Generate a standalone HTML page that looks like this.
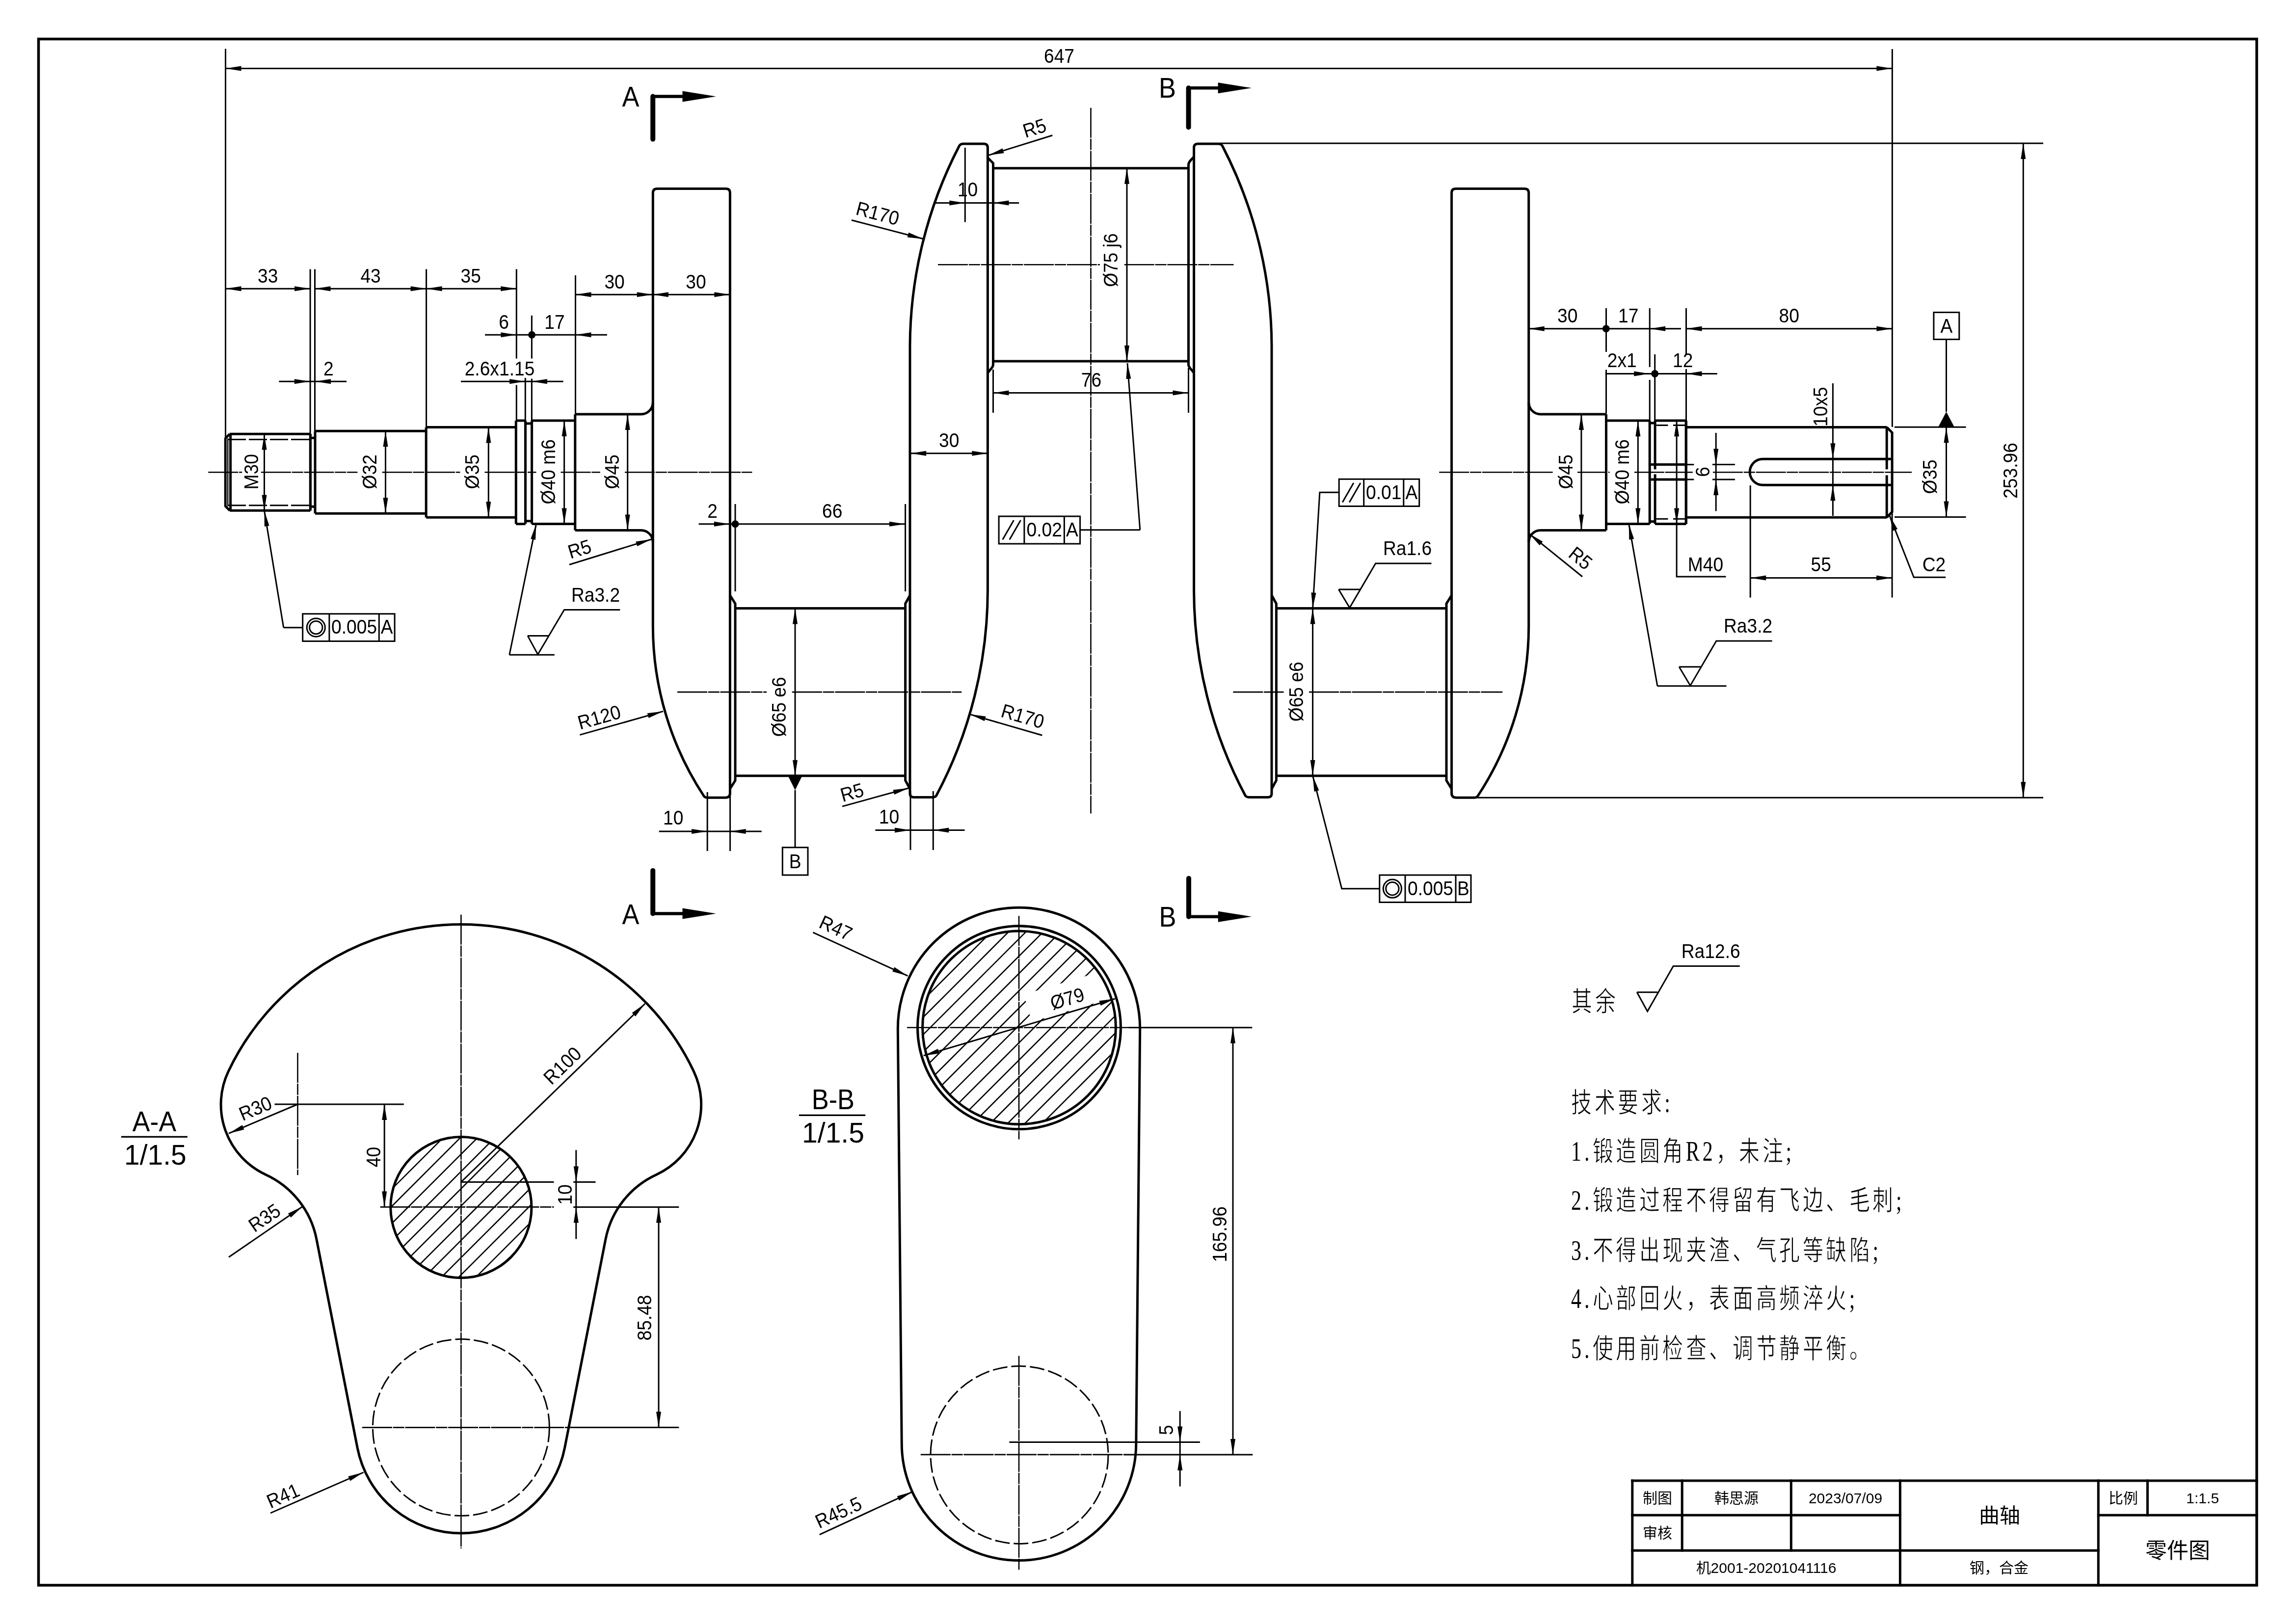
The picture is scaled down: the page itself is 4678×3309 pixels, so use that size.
<!DOCTYPE html>
<html lang="zh-CN"><head><meta charset="utf-8"><title>crankshaft</title>
<style>html,body{margin:0;padding:0;background:#fff;width:4678px;height:3309px;overflow:hidden}svg{display:block;filter:grayscale(100%)}text{fill:#000;stroke:none}</style>
</head><body>
<svg width="4678" height="3309" viewBox="0 0 4678 3309">
<rect width="4678" height="3309" fill="#fff"/>
<g fill="none" stroke="#000">
<rect x="78.5" y="79.5" width="4519.5" height="3150.5" stroke-width="5.5"/>
<g stroke-linecap="square">
<line x1="3325.8" y1="3017" x2="4598" y2="3017" stroke-width="5"/>
<line x1="3325.8" y1="3017" x2="3325.8" y2="3230" stroke-width="5"/>
<line x1="3325.8" y1="3087.2" x2="3871.4" y2="3087.2" stroke-width="5"/>
<line x1="4275.3" y1="3087.2" x2="4598" y2="3087.2" stroke-width="5"/>
<line x1="3325.8" y1="3159.2" x2="4275.3" y2="3159.2" stroke-width="5"/>
<line x1="3427.2" y1="3017" x2="3427.2" y2="3159.2" stroke-width="5"/>
<line x1="3649.3" y1="3017" x2="3649.3" y2="3159.2" stroke-width="5"/>
<line x1="3871.4" y1="3017" x2="3871.4" y2="3230" stroke-width="5"/>
<line x1="4275.3" y1="3017" x2="4275.3" y2="3230" stroke-width="5"/>
<line x1="4375.5" y1="3017" x2="4375.5" y2="3087.2" stroke-width="5"/>
</g>
<line x1="468.1" y1="884.3" x2="632.4" y2="884.3" stroke-width="5.0"/>
<line x1="468.1" y1="1040.3" x2="632.4" y2="1040.3" stroke-width="5.0"/>
<line x1="632.4" y1="892.3" x2="642" y2="892.3" stroke-width="5.0"/>
<line x1="632.4" y1="1032.3" x2="642" y2="1032.3" stroke-width="5.0"/>
<line x1="632.4" y1="884.3" x2="632.4" y2="1040.3" stroke-width="5.0"/>
<line x1="642" y1="878.3" x2="868.2" y2="878.3" stroke-width="5.0"/>
<line x1="642" y1="1046.3" x2="868.2" y2="1046.3" stroke-width="5.0"/>
<line x1="642" y1="878.3" x2="642" y2="1046.3" stroke-width="5.0"/>
<line x1="868.2" y1="870.4" x2="1051.3" y2="870.4" stroke-width="5.0"/>
<line x1="868.2" y1="1054.2" x2="1051.3" y2="1054.2" stroke-width="5.0"/>
<line x1="868.2" y1="870.4" x2="868.2" y2="1054.2" stroke-width="5.0"/>
<line x1="1051.3" y1="857" x2="1070.5" y2="857" stroke-width="5.0"/>
<line x1="1051.3" y1="1067.6" x2="1070.5" y2="1067.6" stroke-width="5.0"/>
<line x1="1051.3" y1="857" x2="1051.3" y2="1067.6" stroke-width="5.0"/>
<line x1="1070.5" y1="862.9" x2="1083.6" y2="862.9" stroke-width="5.0"/>
<line x1="1070.5" y1="1061.7" x2="1083.6" y2="1061.7" stroke-width="5.0"/>
<line x1="1070.5" y1="857" x2="1070.5" y2="1067.6" stroke-width="5.0"/>
<line x1="1083.6" y1="857" x2="1171.8" y2="857" stroke-width="5.0"/>
<line x1="1083.6" y1="1067.6" x2="1171.8" y2="1067.6" stroke-width="5.0"/>
<line x1="1083.6" y1="857" x2="1083.6" y2="1067.6" stroke-width="5.0"/>
<line x1="1171.8" y1="844" x2="1306" y2="844" stroke-width="5.0"/>
<line x1="1171.8" y1="1080.6" x2="1306" y2="1080.6" stroke-width="5.0"/>
<line x1="1171.8" y1="844" x2="1171.8" y2="1080.6" stroke-width="5.0"/>
<path d="M468.1,884.3 L459.3,893.3 L459.3,1031.3 L468.1,1040.3" stroke-width="5.0"/>
<line x1="469.6" y1="884.3" x2="469.6" y2="1040.3" stroke-width="5.0"/>
<line x1="464.2" y1="893.3" x2="464.2" y2="1031.3" stroke-width="2.5"/>
<line x1="632.4" y1="884.3" x2="632.4" y2="1040.3" stroke-width="5.0"/>
<line x1="464" y1="895.5" x2="632" y2="895.5" stroke-width="3" stroke-dasharray="37 6"/>
<line x1="464" y1="1029.7" x2="632" y2="1029.7" stroke-width="3" stroke-dasharray="37 6"/>
<path d="M1306,844 A24,24 0 0 0 1330.3,820" stroke-width="5.0"/>
<path d="M1306,1080.6 A24,24 0 0 1 1330.3,1104.6" stroke-width="5.0"/>
<line x1="3139" y1="844" x2="3272.5" y2="844" stroke-width="5.0"/>
<line x1="3139" y1="1080.6" x2="3272.5" y2="1080.6" stroke-width="5.0"/>
<line x1="3272.5" y1="857" x2="3361.2" y2="857" stroke-width="5.0"/>
<line x1="3272.5" y1="1067.6" x2="3361.2" y2="1067.6" stroke-width="5.0"/>
<line x1="3272.5" y1="844" x2="3272.5" y2="1080.6" stroke-width="5.0"/>
<line x1="3361.2" y1="862" x2="3372.1" y2="862" stroke-width="5.0"/>
<line x1="3361.2" y1="1062.6" x2="3372.1" y2="1062.6" stroke-width="5.0"/>
<line x1="3361.2" y1="857" x2="3361.2" y2="1067.6" stroke-width="5.0"/>
<line x1="3372.1" y1="857" x2="3435.3" y2="857" stroke-width="5.0"/>
<line x1="3372.1" y1="1067.6" x2="3435.3" y2="1067.6" stroke-width="5.0"/>
<line x1="3435.3" y1="870.4" x2="3844.5" y2="870.4" stroke-width="5.0"/>
<line x1="3435.3" y1="1054.2" x2="3844.5" y2="1054.2" stroke-width="5.0"/>
<line x1="3435.3" y1="857" x2="3435.3" y2="1067.6" stroke-width="5.0"/>
<line x1="3372.1" y1="857" x2="3372.1" y2="956.3" stroke-width="5.0"/>
<line x1="3372.1" y1="966.3" x2="3372.1" y2="1067.6" stroke-width="5.0"/>
<line x1="3435.3" y1="857" x2="3435.3" y2="1067.6" stroke-width="5.0"/>
<line x1="3374.5" y1="866.5" x2="3398.5" y2="866.5" stroke-width="3"/>
<line x1="3409" y1="866.5" x2="3433.5" y2="866.5" stroke-width="3"/>
<line x1="3374.5" y1="1057.3" x2="3398.5" y2="1057.3" stroke-width="3"/>
<line x1="3409" y1="1057.3" x2="3433.5" y2="1057.3" stroke-width="3"/>
<line x1="3363.3" y1="946.6" x2="3433.7" y2="946.6" stroke-width="5.0"/>
<line x1="3363.3" y1="977" x2="3433.7" y2="977" stroke-width="5.0"/>
<line x1="3433.7" y1="946.6" x2="3451.3" y2="946.6" stroke-width="3.0"/>
<line x1="3433.7" y1="977" x2="3451.3" y2="977" stroke-width="3.0"/>
<line x1="3489" y1="946.6" x2="3535" y2="946.6" stroke-width="3.0"/>
<line x1="3489" y1="977" x2="3535" y2="977" stroke-width="3.0"/>
<line x1="3844.2" y1="870.4" x2="3844.2" y2="956.3" stroke-width="5.0"/>
<line x1="3844.2" y1="968.3" x2="3844.2" y2="1054.2" stroke-width="5.0"/>
<path d="M3844.2,870.4 L3855.1,881.5 L3855.1,1043.1 L3844.2,1054.2" stroke-width="5.0"/>
<path d="M3852.8,935.3 L3591.6,935.3 A26.45,26.45 0 0 0 3591.6,988.2 L3852.8,988.2" stroke-width="5.0"/>
<path d="M3139,844 A24,24 0 0 1 3114.7,820" stroke-width="5.0"/>
<path d="M3139,1080.6 A24,24 0 0 0 3114.7,1104.6" stroke-width="5.0"/>
<path d="M1330.3,1276.4 L1330.3,393 Q1330.3,384.5 1339,384.5 L1479,384.5 Q1487.4,384.5 1487.4,393 L1487.4,1616 Q1487.4,1625.3 1478,1625.3 L1442,1625.3 Q1436,1625.3 1433.8,1621.5 A630,630 0 0 1 1330.3,1276.4 Z" stroke-width="5.0"/>
<path d="M3114.7,1276.4 L3114.7,393 Q3114.7,384.5 3106,384.5 L2966,384.5 Q2957.6,384.5 2957.6,393 L2957.6,1616 Q2957.6,1625.3 2967,1625.3 L3003,1625.3 Q3009,1625.3 3011.2,1621.5 A630,630 0 0 0 3114.7,1276.4 Z" stroke-width="5.0"/>
<path d="M1954.6,297 Q1957,293 1963,293 L2004.4,293 Q2012.4,293 2012.4,301 L2012.4,1202.7 A892,892 0 0 1 1907.5,1621.5 Q1905,1624.5 1899,1624.5 L1862,1624.5 Q1854,1624.5 1854,1616.5 L1854,704.5 A892,892 0 0 1 1954.6,297 Z" stroke-width="5.0"/>
<path d="M2490.4,297 Q2488,293 2482,293 L2440.6,293 Q2432.6,293 2432.6,301 L2432.6,1202.7 A892,892 0 0 0 2537.5,1621.5 Q2540,1624.5 2546,1624.5 L2583,1624.5 Q2591,1624.5 2591,1616.5 L2591,704.5 A892,892 0 0 0 2490.4,297 Z" stroke-width="5.0"/>
<line x1="2023.5" y1="342.7" x2="2421.5" y2="342.7" stroke-width="5.0"/>
<line x1="2023.5" y1="735.9" x2="2421.5" y2="735.9" stroke-width="5.0"/>
<path d="M2012.4,321.5 L2023.5,332.5 L2023.5,743 C2023.5,750 2016,753 2012.4,760" stroke-width="5.0"/>
<path d="M2432.6,319 C2429,325 2421.5,328 2421.5,336 L2421.5,743 C2421.5,750 2429,753 2432.6,760" stroke-width="5.0"/>
<line x1="1498" y1="1239.5" x2="1844.6" y2="1239.5" stroke-width="5.0"/>
<line x1="1498" y1="1580.7" x2="1844.6" y2="1580.7" stroke-width="5.0"/>
<path d="M1487.4,1213 L1498,1230 L1498,1590.2 L1487.4,1607.2" stroke-width="5.0"/>
<path d="M1854,1213 L1844.6,1230 L1844.6,1590.2 L1854,1607.2" stroke-width="5.0"/>
<line x1="2600.4" y1="1239.5" x2="2947" y2="1239.5" stroke-width="5.0"/>
<line x1="2600.4" y1="1580.7" x2="2947" y2="1580.7" stroke-width="5.0"/>
<path d="M2591,1213 L2600.4,1230 L2600.4,1590.2 L2591,1607.2" stroke-width="5.0"/>
<path d="M2957.6,1213 L2947,1230 L2947,1590.2 L2957.6,1607.2" stroke-width="5.0"/>
<line x1="424.3" y1="962.3" x2="493.2" y2="962.3" stroke-width="2.6" stroke-dasharray="61 1.8 23 1.8"/>
<line x1="531.9" y1="962.3" x2="728.4" y2="962.3" stroke-width="2.6" stroke-dasharray="61 1.8 23 1.8"/>
<line x1="778.6" y1="962.3" x2="937.5" y2="962.3" stroke-width="2.6" stroke-dasharray="61 1.8 23 1.8"/>
<line x1="987.5" y1="962.3" x2="1092.5" y2="962.3" stroke-width="2.6" stroke-dasharray="61 1.8 23 1.8"/>
<line x1="1142.5" y1="962.3" x2="1223" y2="962.3" stroke-width="2.6" stroke-dasharray="61 1.8 23 1.8"/>
<line x1="1273" y1="962.3" x2="1532.4" y2="962.3" stroke-width="2.6" stroke-dasharray="61 1.8 23 1.8"/>
<line x1="2932.2" y1="962.3" x2="3163.7" y2="962.3" stroke-width="2.6" stroke-dasharray="61 1.8 23 1.8"/>
<line x1="3214" y1="962.3" x2="3279.6" y2="962.3" stroke-width="2.6" stroke-dasharray="61 1.8 23 1.8"/>
<line x1="3329.9" y1="962.3" x2="3448.8" y2="962.3" stroke-width="2.6" stroke-dasharray="61 1.8 23 1.8"/>
<line x1="3490" y1="962.3" x2="3895.1" y2="962.3" stroke-width="2.6" stroke-dasharray="61 1.8 23 1.8"/>
<line x1="1911" y1="539.3" x2="2241" y2="539.3" stroke-width="2.6" stroke-dasharray="61 1.8 23 1.8"/>
<line x1="2290.8" y1="539.3" x2="2513.5" y2="539.3" stroke-width="2.6" stroke-dasharray="61 1.8 23 1.8"/>
<line x1="1380" y1="1410.1" x2="1562" y2="1410.1" stroke-width="2.6" stroke-dasharray="61 1.8 23 1.8"/>
<line x1="1613.8" y1="1410.1" x2="1959.3" y2="1410.1" stroke-width="2.6" stroke-dasharray="61 1.8 23 1.8"/>
<line x1="2512.4" y1="1410.1" x2="2615.6" y2="1410.1" stroke-width="2.6" stroke-dasharray="61 1.8 23 1.8"/>
<line x1="2667" y1="1410.1" x2="3061.2" y2="1410.1" stroke-width="2.6" stroke-dasharray="61 1.8 23 1.8"/>
<line x1="2222.5" y1="219.8" x2="2222.5" y2="1657.6" stroke-width="2.6" stroke-dasharray="61 1.8 23 1.8"/>
<line x1="459.5" y1="139.6" x2="3855.4" y2="139.6" stroke-width="3.0"/>
<path d="M459.5,139.6 L491.5,134.6 L491.5,144.6Z" fill="#000" stroke="none"/>
<path d="M3855.4,139.6 L3823.4,144.6 L3823.4,134.6Z" fill="#000" stroke="none"/>
<text transform="translate(2158,127.9) scale(0.93,1)" font-size="40" text-anchor="middle" font-family="&quot;Liberation Sans&quot;, sans-serif">647</text>
<line x1="459.5" y1="99.4" x2="459.5" y2="893" stroke-width="3.0"/>
<line x1="3855.4" y1="100" x2="3855.4" y2="870" stroke-width="3.0"/>
<line x1="459.5" y1="588.2" x2="632.1" y2="588.2" stroke-width="3.0"/>
<path d="M459.5,588.2 L491.5,583.2 L491.5,593.2Z" fill="#000" stroke="none"/>
<path d="M632.1,588.2 L600.1,593.2 L600.1,583.2Z" fill="#000" stroke="none"/>
<text transform="translate(545.8,575.6) scale(0.93,1)" font-size="40" text-anchor="middle" font-family="&quot;Liberation Sans&quot;, sans-serif">33</text>
<line x1="641.5" y1="588.2" x2="868.6" y2="588.2" stroke-width="3.0"/>
<path d="M641.5,588.2 L673.5,583.2 L673.5,593.2Z" fill="#000" stroke="none"/>
<path d="M868.6,588.2 L836.6,593.2 L836.6,583.2Z" fill="#000" stroke="none"/>
<text transform="translate(755.1,575.6) scale(0.93,1)" font-size="40" text-anchor="middle" font-family="&quot;Liberation Sans&quot;, sans-serif">43</text>
<line x1="868.6" y1="588.2" x2="1052.3" y2="588.2" stroke-width="3.0"/>
<path d="M868.6,588.2 L900.6,583.2 L900.6,593.2Z" fill="#000" stroke="none"/>
<path d="M1052.3,588.2 L1020.3,593.2 L1020.3,583.2Z" fill="#000" stroke="none"/>
<text transform="translate(959.2,575.6) scale(0.93,1)" font-size="40" text-anchor="middle" font-family="&quot;Liberation Sans&quot;, sans-serif">35</text>
<line x1="632.1" y1="548.4" x2="632.1" y2="884" stroke-width="3.0"/>
<line x1="641.5" y1="548.4" x2="641.5" y2="878" stroke-width="3.0"/>
<line x1="868.6" y1="548.4" x2="868.6" y2="870" stroke-width="3.0"/>
<line x1="1052.3" y1="548.4" x2="1052.3" y2="730.6" stroke-width="3.0"/>
<line x1="1052.3" y1="784.5" x2="1052.3" y2="857" stroke-width="3.0"/>
<line x1="568.4" y1="777.2" x2="706.1" y2="777.2" stroke-width="3.0"/>
<path d="M631.8,777.2 L599.8,782.2 L599.8,772.2Z" fill="#000" stroke="none"/>
<path d="M642.1,777.2 L674.1,772.2 L674.1,782.2Z" fill="#000" stroke="none"/>
<text transform="translate(669.4,764.6) scale(0.93,1)" font-size="40" text-anchor="middle" font-family="&quot;Liberation Sans&quot;, sans-serif">2</text>
<line x1="939.1" y1="777.2" x2="1147.6" y2="777.2" stroke-width="3.0"/>
<path d="M1070.1,777.2 L1038.1,782.2 L1038.1,772.2Z" fill="#000" stroke="none"/>
<path d="M1082.8,777.2 L1114.8,772.2 L1114.8,782.2Z" fill="#000" stroke="none"/>
<text transform="translate(1018,764.6) scale(0.93,1)" font-size="40" text-anchor="middle" font-family="&quot;Liberation Sans&quot;, sans-serif">2.6x1.15</text>
<line x1="1070.3" y1="770" x2="1070.3" y2="862.9" stroke-width="3.0"/>
<line x1="1083.4" y1="642.9" x2="1083.4" y2="730.6" stroke-width="3.0"/>
<line x1="1083.4" y1="771.6" x2="1083.4" y2="857" stroke-width="3.0"/>
<line x1="988.1" y1="682.2" x2="1236.9" y2="682.2" stroke-width="3.0"/>
<path d="M1052.5,682.2 L1020.5,687.2 L1020.5,677.2Z" fill="#000" stroke="none"/>
<path d="M1172.5,682.2 L1204.5,677.2 L1204.5,687.2Z" fill="#000" stroke="none"/>
<circle cx="1083.6" cy="682.2" r="7.5" fill="#000" stroke="none"/>
<text transform="translate(1026.7,669.5) scale(0.93,1)" font-size="40" text-anchor="middle" font-family="&quot;Liberation Sans&quot;, sans-serif">6</text>
<text transform="translate(1130,669.5) scale(0.93,1)" font-size="40" text-anchor="middle" font-family="&quot;Liberation Sans&quot;, sans-serif">17</text>
<line x1="1172.5" y1="600.2" x2="1329.8" y2="600.2" stroke-width="3.0"/>
<path d="M1172.5,600.2 L1204.5,595.2 L1204.5,605.2Z" fill="#000" stroke="none"/>
<path d="M1329.8,600.2 L1297.8,605.2 L1297.8,595.2Z" fill="#000" stroke="none"/>
<text transform="translate(1252.1,587.9) scale(0.93,1)" font-size="40" text-anchor="middle" font-family="&quot;Liberation Sans&quot;, sans-serif">30</text>
<line x1="1329.8" y1="600.2" x2="1487.4" y2="600.2" stroke-width="3.0"/>
<path d="M1329.8,600.2 L1361.8,595.2 L1361.8,605.2Z" fill="#000" stroke="none"/>
<path d="M1487.4,600.2 L1455.4,605.2 L1455.4,595.2Z" fill="#000" stroke="none"/>
<text transform="translate(1417.9,587.9) scale(0.93,1)" font-size="40" text-anchor="middle" font-family="&quot;Liberation Sans&quot;, sans-serif">30</text>
<line x1="1172.5" y1="561" x2="1172.5" y2="843" stroke-width="3.0"/>
<line x1="538.5" y1="884.4" x2="538.5" y2="1040.4" stroke-width="3.0"/>
<path d="M538.5,884.4 L543.5,916.4 L533.5,916.4Z" fill="#000" stroke="none"/>
<path d="M538.5,1040.4 L533.5,1008.4 L543.5,1008.4Z" fill="#000" stroke="none"/>
<text transform="translate(526.2,961.3) rotate(-90) scale(0.93,1)" font-size="40" text-anchor="middle" font-family="&quot;Liberation Sans&quot;, sans-serif">M30</text>
<line x1="785.5" y1="878.3" x2="785.5" y2="1046.3" stroke-width="3.0"/>
<path d="M785.5,878.3 L790.5,910.3 L780.5,910.3Z" fill="#000" stroke="none"/>
<path d="M785.5,1046.3 L780.5,1014.3 L790.5,1014.3Z" fill="#000" stroke="none"/>
<text transform="translate(766.5,961.3) rotate(-90) scale(0.93,1)" font-size="40" text-anchor="middle" font-family="&quot;Liberation Sans&quot;, sans-serif">&#216;32</text>
<line x1="995.3" y1="870.4" x2="995.3" y2="1054.2" stroke-width="3.0"/>
<path d="M995.3,870.4 L1000.3,902.4 L990.3,902.4Z" fill="#000" stroke="none"/>
<path d="M995.3,1054.2 L990.3,1022.2 L1000.3,1022.2Z" fill="#000" stroke="none"/>
<text transform="translate(975.5,961.3) rotate(-90) scale(0.93,1)" font-size="40" text-anchor="middle" font-family="&quot;Liberation Sans&quot;, sans-serif">&#216;35</text>
<line x1="1149.6" y1="857" x2="1149.6" y2="1067.6" stroke-width="3.0"/>
<path d="M1149.6,857 L1154.6,889 L1144.6,889Z" fill="#000" stroke="none"/>
<path d="M1149.6,1067.6 L1144.6,1035.6 L1154.6,1035.6Z" fill="#000" stroke="none"/>
<text transform="translate(1130.5,961.3) rotate(-90) scale(0.93,1)" font-size="40" text-anchor="middle" font-family="&quot;Liberation Sans&quot;, sans-serif">&#216;40 m6</text>
<line x1="1278.7" y1="844" x2="1278.7" y2="1080.6" stroke-width="3.0"/>
<path d="M1278.7,844 L1283.7,876 L1273.7,876Z" fill="#000" stroke="none"/>
<path d="M1278.7,1080.6 L1273.7,1048.6 L1283.7,1048.6Z" fill="#000" stroke="none"/>
<text transform="translate(1261,961.3) rotate(-90) scale(0.93,1)" font-size="40" text-anchor="middle" font-family="&quot;Liberation Sans&quot;, sans-serif">&#216;45</text>
<line x1="538.5" y1="1040.4" x2="577.8" y2="1278.8" stroke-width="3.0"/>
<path d="M538.5,1040.4 L548.6,1071.2 L538.8,1072.8Z" fill="#000" stroke="none"/>
<line x1="577.8" y1="1278.8" x2="616.7" y2="1278.8" stroke-width="3.0"/>
<path d="M616.7,1250.7 L804.1,1250.7 L804.1,1306.5 L616.7,1306.5Z" stroke-width="3.0"/>
<line x1="670.9" y1="1250.7" x2="670.9" y2="1306.5" stroke-width="3.0"/>
<line x1="772.3" y1="1250.7" x2="772.3" y2="1306.5" stroke-width="3.0"/>
<circle cx="643.8" cy="1278.6" r="18.6" stroke-width="3"/>
<circle cx="643.8" cy="1278.6" r="13.2" stroke-width="3"/>
<text transform="translate(721.6,1277.1) scale(0.93,1)" y="14.3" font-size="40" text-anchor="middle" font-family="&quot;Liberation Sans&quot;, sans-serif">0.005</text>
<text transform="translate(788.2,1277.1) scale(0.93,1)" y="14.3" font-size="40" text-anchor="middle" font-family="&quot;Liberation Sans&quot;, sans-serif">A</text>
<line x1="1092.5" y1="1067.6" x2="1037.9" y2="1334.2" stroke-width="3.0"/>
<path d="M1092.5,1067.6 L1091,1100 L1081.2,1097.9Z" fill="#000" stroke="none"/>
<line x1="1037.9" y1="1334.2" x2="1129.8" y2="1334.2" stroke-width="3.0"/>
<path d="M1075.1,1295.4 L1117.3,1295.4" stroke-width="3.0"/>
<path d="M1075.1,1295.4 L1095.8,1333.4 L1149.6,1242.4 L1263.4,1242.4" stroke-width="3.0"/>
<text transform="translate(1213.5,1225.8) scale(0.93,1)" font-size="40" text-anchor="middle" font-family="&quot;Liberation Sans&quot;, sans-serif">Ra3.2</text>
<line x1="1160" y1="1150.5" x2="1327.5" y2="1098.8" stroke-width="3.0"/>
<path d="M1327.5,1098.8 L1298.4,1113 L1295.4,1103.5Z" fill="#000" stroke="none"/>
<text transform="translate(1180.6,1118.3) rotate(-17.2) scale(0.93,1)" y="14.3" font-size="40" text-anchor="middle" font-family="&quot;Liberation Sans&quot;, sans-serif">R5</text>
<line x1="1903.5" y1="413.4" x2="2076.2" y2="413.4" stroke-width="3.0"/>
<path d="M1966.3,413.4 L1934.3,418.4 L1934.3,408.4Z" fill="#000" stroke="none"/>
<path d="M2023.5,413.4 L2055.5,408.4 L2055.5,418.4Z" fill="#000" stroke="none"/>
<line x1="1966.3" y1="300.9" x2="1966.3" y2="452.6" stroke-width="3.0"/>
<text transform="translate(1971.6,400.3) scale(0.93,1)" font-size="40" text-anchor="middle" font-family="&quot;Liberation Sans&quot;, sans-serif">10</text>
<line x1="2144.3" y1="275.8" x2="2013.4" y2="316.6" stroke-width="3.0"/>
<path d="M2013.4,316.6 L2042.5,302.3 L2045.4,311.9Z" fill="#000" stroke="none"/>
<text transform="translate(2107.6,260.6) rotate(-17.3) scale(0.93,1)" y="14.3" font-size="40" text-anchor="middle" font-family="&quot;Liberation Sans&quot;, sans-serif">R5</text>
<line x1="1735" y1="448.5" x2="1881" y2="486.7" stroke-width="3.0"/>
<path d="M1881,486.7 L1848.8,483.4 L1851.3,473.8Z" fill="#000" stroke="none"/>
<text transform="translate(1788.4,434.3) rotate(14.7) scale(0.93,1)" y="14.3" font-size="40" text-anchor="middle" font-family="&quot;Liberation Sans&quot;, sans-serif">R170</text>
<line x1="1855.1" y1="923.8" x2="2012.4" y2="923.8" stroke-width="3.0"/>
<path d="M1855.1,923.8 L1887.1,918.8 L1887.1,928.8Z" fill="#000" stroke="none"/>
<path d="M2012.4,923.8 L1980.4,928.8 L1980.4,918.8Z" fill="#000" stroke="none"/>
<text transform="translate(1933.7,911.3) scale(0.93,1)" font-size="40" text-anchor="middle" font-family="&quot;Liberation Sans&quot;, sans-serif">30</text>
<line x1="2023.5" y1="800.5" x2="2421.5" y2="800.5" stroke-width="3.0"/>
<path d="M2023.5,800.5 L2055.5,795.5 L2055.5,805.5Z" fill="#000" stroke="none"/>
<path d="M2421.5,800.5 L2389.5,805.5 L2389.5,795.5Z" fill="#000" stroke="none"/>
<text transform="translate(2223.4,787.5) scale(0.93,1)" font-size="40" text-anchor="middle" font-family="&quot;Liberation Sans&quot;, sans-serif">76</text>
<line x1="2023.5" y1="753" x2="2023.5" y2="841" stroke-width="3.0"/>
<line x1="2421.5" y1="750" x2="2421.5" y2="841" stroke-width="3.0"/>
<line x1="2296" y1="342.7" x2="2296" y2="735.9" stroke-width="3.0"/>
<path d="M2296,342.7 L2301,374.7 L2291,374.7Z" fill="#000" stroke="none"/>
<path d="M2296,735.9 L2291,703.9 L2301,703.9Z" fill="#000" stroke="none"/>
<text transform="translate(2277,530) rotate(-90) scale(0.93,1)" font-size="40" text-anchor="middle" font-family="&quot;Liberation Sans&quot;, sans-serif">&#216;75 j6</text>
<path d="M2035.1,1052 L2200.6,1052 L2200.6,1107.9 L2035.1,1107.9Z" stroke-width="3.0"/>
<line x1="2086.9" y1="1052" x2="2086.9" y2="1107.9" stroke-width="3.0"/>
<line x1="2168.4" y1="1052" x2="2168.4" y2="1107.9" stroke-width="3.0"/>
<line x1="2042.8" y1="1099.5" x2="2065.5" y2="1060" stroke-width="3"/>
<line x1="2056.9" y1="1099.5" x2="2079.6" y2="1060" stroke-width="3"/>
<text transform="translate(2127.7,1078.5) scale(0.93,1)" y="14.3" font-size="40" text-anchor="middle" font-family="&quot;Liberation Sans&quot;, sans-serif">0.02</text>
<text transform="translate(2184.5,1078.5) scale(0.93,1)" y="14.3" font-size="40" text-anchor="middle" font-family="&quot;Liberation Sans&quot;, sans-serif">A</text>
<line x1="2200.6" y1="1079.8" x2="2322.8" y2="1079.8" stroke-width="3.0"/>
<line x1="2322.8" y1="1079.8" x2="2297" y2="740" stroke-width="3.0"/>
<path d="M2297,740 L2304.4,771.5 L2294.4,772.3Z" fill="#000" stroke="none"/>
<line x1="1423.6" y1="1067.8" x2="1844" y2="1067.8" stroke-width="3.0"/>
<path d="M1486.9,1067.8 L1454.9,1072.8 L1454.9,1062.8Z" fill="#000" stroke="none"/>
<circle cx="1498" cy="1067.8" r="7.5" fill="#000" stroke="none"/>
<path d="M1844,1067.8 L1812,1072.8 L1812,1062.8Z" fill="#000" stroke="none"/>
<line x1="1498" y1="1027" x2="1498" y2="1205" stroke-width="3.0"/>
<line x1="1844.6" y1="1027" x2="1844.6" y2="1205" stroke-width="3.0"/>
<text transform="translate(1451.7,1055) scale(0.93,1)" font-size="40" text-anchor="middle" font-family="&quot;Liberation Sans&quot;, sans-serif">2</text>
<text transform="translate(1695.8,1055) scale(0.93,1)" font-size="40" text-anchor="middle" font-family="&quot;Liberation Sans&quot;, sans-serif">66</text>
<line x1="1620" y1="1239.5" x2="1620" y2="1580.7" stroke-width="3.0"/>
<path d="M1620,1239.5 L1625,1271.5 L1615,1271.5Z" fill="#000" stroke="none"/>
<path d="M1620,1580.7 L1615,1548.7 L1625,1548.7Z" fill="#000" stroke="none"/>
<text transform="translate(1601,1440.3) rotate(-90) scale(0.93,1)" font-size="40" text-anchor="middle" font-family="&quot;Liberation Sans&quot;, sans-serif">&#216;65 e6</text>
<path d="M1605.5,1580.7 L1634.5,1580.7 L1620,1610Z" fill="#000" stroke="none"/>
<line x1="1620" y1="1610" x2="1620" y2="1726.7" stroke-width="3.0"/>
<path d="M1594.3,1726.7 L1646,1726.7 L1646,1782.9 L1594.3,1782.9Z" stroke-width="3.0"/>
<text transform="translate(1620.2,1754.8) scale(0.93,1)" y="14.3" font-size="40" text-anchor="middle" font-family="&quot;Liberation Sans&quot;, sans-serif">B</text>
<line x1="1342.7" y1="1694" x2="1551.7" y2="1694" stroke-width="3.0"/>
<path d="M1441.2,1694 L1409.2,1699 L1409.2,1689Z" fill="#000" stroke="none"/>
<path d="M1487.6,1694 L1519.6,1689 L1519.6,1699Z" fill="#000" stroke="none"/>
<line x1="1441.2" y1="1614" x2="1441.2" y2="1734" stroke-width="3.0"/>
<line x1="1487.6" y1="1614" x2="1487.6" y2="1734" stroke-width="3.0"/>
<text transform="translate(1371.7,1680.3) scale(0.93,1)" font-size="40" text-anchor="middle" font-family="&quot;Liberation Sans&quot;, sans-serif">10</text>
<line x1="1783.4" y1="1691.5" x2="1965.5" y2="1691.5" stroke-width="3.0"/>
<path d="M1855,1691.5 L1823,1696.5 L1823,1686.5Z" fill="#000" stroke="none"/>
<path d="M1901.3,1691.5 L1933.3,1686.5 L1933.3,1696.5Z" fill="#000" stroke="none"/>
<line x1="1855" y1="1612" x2="1855" y2="1732" stroke-width="3.0"/>
<line x1="1901.3" y1="1612" x2="1901.3" y2="1732" stroke-width="3.0"/>
<text transform="translate(1811.5,1678) scale(0.93,1)" font-size="40" text-anchor="middle" font-family="&quot;Liberation Sans&quot;, sans-serif">10</text>
<line x1="1181.4" y1="1497.4" x2="1351" y2="1449.4" stroke-width="3.0"/>
<path d="M1351,1449.4 L1321.6,1462.9 L1318.8,1453.3Z" fill="#000" stroke="none"/>
<text transform="translate(1220.7,1461) rotate(-15.8) scale(0.93,1)" y="14.3" font-size="40" text-anchor="middle" font-family="&quot;Liberation Sans&quot;, sans-serif">R120</text>
<line x1="1716" y1="1643.1" x2="1851.7" y2="1605.8" stroke-width="3.0"/>
<path d="M1851.7,1605.8 L1822.2,1619.1 L1819.5,1609.5Z" fill="#000" stroke="none"/>
<text transform="translate(1735.8,1614.1) rotate(-15.4) scale(0.93,1)" y="14.3" font-size="40" text-anchor="middle" font-family="&quot;Liberation Sans&quot;, sans-serif">R5</text>
<line x1="2123.4" y1="1498.3" x2="1976.5" y2="1455.6" stroke-width="3.0"/>
<path d="M1976.5,1455.6 L2008.6,1459.7 L2005.8,1469.3Z" fill="#000" stroke="none"/>
<text transform="translate(2084,1459) rotate(16.2) scale(0.93,1)" y="14.3" font-size="40" text-anchor="middle" font-family="&quot;Liberation Sans&quot;, sans-serif">R170</text>
<line x1="2674.6" y1="1239.5" x2="2674.6" y2="1580.7" stroke-width="3.0"/>
<path d="M2674.6,1239.5 L2679.6,1271.5 L2669.6,1271.5Z" fill="#000" stroke="none"/>
<path d="M2674.6,1580.7 L2669.6,1548.7 L2679.6,1548.7Z" fill="#000" stroke="none"/>
<text transform="translate(2654.6,1409.3) rotate(-90) scale(0.93,1)" font-size="40" text-anchor="middle" font-family="&quot;Liberation Sans&quot;, sans-serif">&#216;65 e6</text>
<path d="M2728.2,976.3 L2891.7,976.3 L2891.7,1031.4 L2728.2,1031.4Z" stroke-width="3.0"/>
<line x1="2778.7" y1="976.3" x2="2778.7" y2="1031.4" stroke-width="3.0"/>
<line x1="2859.8" y1="976.3" x2="2859.8" y2="1031.4" stroke-width="3.0"/>
<line x1="2735.2" y1="1023.5" x2="2757.9" y2="983.9" stroke-width="3"/>
<line x1="2749.3" y1="1023.5" x2="2772" y2="983.9" stroke-width="3"/>
<text transform="translate(2819.2,1002.4) scale(0.93,1)" y="14.3" font-size="40" text-anchor="middle" font-family="&quot;Liberation Sans&quot;, sans-serif">0.01</text>
<text transform="translate(2875.8,1002.4) scale(0.93,1)" y="14.3" font-size="40" text-anchor="middle" font-family="&quot;Liberation Sans&quot;, sans-serif">A</text>
<path d="M2728.2,1003.2 L2688.9,1003.2 L2674.6,1239.5" stroke-width="3.0"/>
<path d="M2674.6,1239.5 L2671.5,1207.3 L2681.5,1207.9Z" fill="#000" stroke="none"/>
<path d="M2810.8,1783 L2997,1783 L2997,1838.4 L2810.8,1838.4Z" stroke-width="3.0"/>
<line x1="2863" y1="1783" x2="2863" y2="1838.4" stroke-width="3.0"/>
<line x1="2966" y1="1783" x2="2966" y2="1838.4" stroke-width="3.0"/>
<circle cx="2836.9" cy="1810.7" r="18.6" stroke-width="3"/>
<circle cx="2836.9" cy="1810.7" r="13.2" stroke-width="3"/>
<text transform="translate(2914.5,1809.2) scale(0.93,1)" y="14.3" font-size="40" text-anchor="middle" font-family="&quot;Liberation Sans&quot;, sans-serif">0.005</text>
<text transform="translate(2981.5,1809.2) scale(0.93,1)" y="14.3" font-size="40" text-anchor="middle" font-family="&quot;Liberation Sans&quot;, sans-serif">B</text>
<path d="M2810.8,1810.7 L2733.8,1810.7 L2674.6,1580.7" stroke-width="3.0"/>
<path d="M2674.6,1580.7 L2687.4,1610.4 L2677.7,1612.9Z" fill="#000" stroke="none"/>
<path d="M2727.4,1201 L2770.9,1201" stroke-width="3.0"/>
<path d="M2727.4,1201 L2749.8,1238.3 L2802.7,1148 L2916.5,1148" stroke-width="3.0"/>
<text transform="translate(2867.5,1130.7) scale(0.93,1)" font-size="40" text-anchor="middle" font-family="&quot;Liberation Sans&quot;, sans-serif">Ra1.6</text>
<line x1="3114.7" y1="669.8" x2="3425" y2="669.8" stroke-width="3.0"/>
<path d="M3114.7,669.8 L3146.7,664.8 L3146.7,674.8Z" fill="#000" stroke="none"/>
<circle cx="3272.3" cy="669.8" r="7.5" fill="#000" stroke="none"/>
<path d="M3361.2,669.8 L3393.2,664.8 L3393.2,674.8Z" fill="#000" stroke="none"/>
<text transform="translate(3193.8,656.7) scale(0.93,1)" font-size="40" text-anchor="middle" font-family="&quot;Liberation Sans&quot;, sans-serif">30</text>
<text transform="translate(3317.8,656.7) scale(0.93,1)" font-size="40" text-anchor="middle" font-family="&quot;Liberation Sans&quot;, sans-serif">17</text>
<line x1="3435.5" y1="669.8" x2="3855.4" y2="669.8" stroke-width="3.0"/>
<path d="M3435.5,669.8 L3467.5,664.8 L3467.5,674.8Z" fill="#000" stroke="none"/>
<path d="M3855.4,669.8 L3823.4,674.8 L3823.4,664.8Z" fill="#000" stroke="none"/>
<text transform="translate(3645.2,656.8) scale(0.93,1)" font-size="40" text-anchor="middle" font-family="&quot;Liberation Sans&quot;, sans-serif">80</text>
<line x1="3272.5" y1="628" x2="3272.5" y2="717" stroke-width="3.0"/>
<line x1="3272.5" y1="753.5" x2="3272.5" y2="843" stroke-width="3.0"/>
<line x1="3361.2" y1="628" x2="3361.2" y2="748" stroke-width="3.0"/>
<line x1="3435.5" y1="628" x2="3435.5" y2="722" stroke-width="3.0"/>
<line x1="3270.7" y1="761.4" x2="3498.7" y2="761.4" stroke-width="3.0"/>
<path d="M3361.2,761.4 L3329.2,766.4 L3329.2,756.4Z" fill="#000" stroke="none"/>
<circle cx="3371.7" cy="761.4" r="7.5" fill="#000" stroke="none"/>
<path d="M3435.5,761.4 L3467.5,756.4 L3467.5,766.4Z" fill="#000" stroke="none"/>
<text transform="translate(3304.7,748.3) scale(0.93,1)" font-size="40" text-anchor="middle" font-family="&quot;Liberation Sans&quot;, sans-serif">2x1</text>
<text transform="translate(3428.7,748.3) scale(0.93,1)" font-size="40" text-anchor="middle" font-family="&quot;Liberation Sans&quot;, sans-serif">12</text>
<line x1="3371.7" y1="722" x2="3371.7" y2="857" stroke-width="3.0"/>
<line x1="3435.5" y1="752" x2="3435.5" y2="857" stroke-width="3.0"/>
<line x1="3361.2" y1="774" x2="3361.2" y2="857" stroke-width="3.0"/>
<line x1="3221.9" y1="844" x2="3221.9" y2="1080.6" stroke-width="3.0"/>
<path d="M3221.9,844 L3226.9,876 L3216.9,876Z" fill="#000" stroke="none"/>
<path d="M3221.9,1080.6 L3216.9,1048.6 L3226.9,1048.6Z" fill="#000" stroke="none"/>
<text transform="translate(3204,961.3) rotate(-90) scale(0.93,1)" font-size="40" text-anchor="middle" font-family="&quot;Liberation Sans&quot;, sans-serif">&#216;45</text>
<line x1="3337.3" y1="857.2" x2="3337.3" y2="1067.4" stroke-width="3.0"/>
<path d="M3337.3,857.2 L3342.3,889.2 L3332.3,889.2Z" fill="#000" stroke="none"/>
<path d="M3337.3,1067.4 L3332.3,1035.4 L3342.3,1035.4Z" fill="#000" stroke="none"/>
<text transform="translate(3319,961.3) rotate(-90) scale(0.93,1)" font-size="40" text-anchor="middle" font-family="&quot;Liberation Sans&quot;, sans-serif">&#216;40 m6</text>
<line x1="3416.1" y1="857.2" x2="3416.1" y2="1067.4" stroke-width="3.0"/>
<path d="M3416.1,857.2 L3421.1,889.2 L3411.1,889.2Z" fill="#000" stroke="none"/>
<path d="M3416.1,1067.4 L3411.1,1035.4 L3421.1,1035.4Z" fill="#000" stroke="none"/>
<path d="M3416.1,1067.4 L3416.1,1174.9 L3516.5,1174.9" stroke-width="3.0"/>
<text transform="translate(3475,1163.8) scale(0.93,1)" font-size="40" text-anchor="middle" font-family="&quot;Liberation Sans&quot;, sans-serif">M40</text>
<line x1="3496.2" y1="882" x2="3496.2" y2="1041.3" stroke-width="3.0"/>
<path d="M3496.2,946.6 L3491.2,914.6 L3501.2,914.6Z" fill="#000" stroke="none"/>
<path d="M3496.2,977 L3501.2,1009 L3491.2,1009Z" fill="#000" stroke="none"/>
<text transform="translate(3483,961.3) rotate(-90) scale(0.93,1)" font-size="40" text-anchor="middle" font-family="&quot;Liberation Sans&quot;, sans-serif">6</text>
<line x1="3734.4" y1="781" x2="3734.4" y2="1051" stroke-width="3.0"/>
<path d="M3734.4,935.3 L3729.4,903.3 L3739.4,903.3Z" fill="#000" stroke="none"/>
<path d="M3734.4,988.2 L3739.4,1020.2 L3729.4,1020.2Z" fill="#000" stroke="none"/>
<text transform="translate(3723,828.6) rotate(-90) scale(0.93,1)" font-size="40" text-anchor="middle" font-family="&quot;Liberation Sans&quot;, sans-serif">10x5</text>
<line x1="3965.5" y1="870.3" x2="3965.5" y2="1053.5" stroke-width="3.0"/>
<path d="M3965.5,870.3 L3970.5,902.3 L3960.5,902.3Z" fill="#000" stroke="none"/>
<path d="M3965.5,1053.5 L3960.5,1021.5 L3970.5,1021.5Z" fill="#000" stroke="none"/>
<text transform="translate(3946,971.4) rotate(-90) scale(0.93,1)" font-size="40" text-anchor="middle" font-family="&quot;Liberation Sans&quot;, sans-serif">&#216;35</text>
<line x1="3860" y1="870.3" x2="4005.6" y2="870.3" stroke-width="3.0"/>
<line x1="3860" y1="1053.5" x2="4005.6" y2="1053.5" stroke-width="3.0"/>
<path d="M3949,870.3 L3982,870.3 L3965.5,839Z" fill="#000" stroke="none"/>
<line x1="3965.5" y1="691.5" x2="3965.5" y2="839" stroke-width="3.0"/>
<path d="M3939.9,636.5 L3991.8,636.5 L3991.8,691.5 L3939.9,691.5Z" stroke-width="3.0"/>
<text transform="translate(3965.9,664) scale(0.93,1)" y="14.3" font-size="40" text-anchor="middle" font-family="&quot;Liberation Sans&quot;, sans-serif">A</text>
<line x1="3566.2" y1="1177.4" x2="3855.1" y2="1177.4" stroke-width="3.0"/>
<path d="M3566.2,1177.4 L3598.2,1172.4 L3598.2,1182.4Z" fill="#000" stroke="none"/>
<path d="M3855.1,1177.4 L3823.1,1182.4 L3823.1,1172.4Z" fill="#000" stroke="none"/>
<text transform="translate(3710.2,1163.8) scale(0.93,1)" font-size="40" text-anchor="middle" font-family="&quot;Liberation Sans&quot;, sans-serif">55</text>
<line x1="3566.2" y1="989" x2="3566.2" y2="1217.6" stroke-width="3.0"/>
<line x1="3855.1" y1="1043" x2="3855.1" y2="1217.6" stroke-width="3.0"/>
<path d="M3964.2,1176.2 L3899.3,1176.2 L3849.7,1050.1" stroke-width="3.0"/>
<path d="M3849.7,1050.1 L3866.1,1078 L3856.8,1081.7Z" fill="#000" stroke="none"/>
<text transform="translate(3940.5,1163.8) scale(0.93,1)" font-size="40" text-anchor="middle" font-family="&quot;Liberation Sans&quot;, sans-serif">C2</text>
<line x1="3224" y1="1175" x2="3115.2" y2="1087.2" stroke-width="3.0"/>
<path d="M3115.2,1087.2 L3143.2,1103.4 L3137,1111.2Z" fill="#000" stroke="none"/>
<text transform="translate(3220.7,1136.9) rotate(38.9) scale(0.93,1)" y="14.3" font-size="40" text-anchor="middle" font-family="&quot;Liberation Sans&quot;, sans-serif">R5</text>
<line x1="3318.7" y1="1067.4" x2="3376.9" y2="1397.7" stroke-width="3.0"/>
<path d="M3318.7,1067.4 L3329.2,1098 L3319.3,1099.8Z" fill="#000" stroke="none"/>
<line x1="3376.9" y1="1397.7" x2="3517.5" y2="1397.7" stroke-width="3.0"/>
<path d="M3421.1,1358.8 L3465.8,1358.8" stroke-width="3.0"/>
<path d="M3421.1,1358.8 L3443.9,1396.9 L3496.9,1305.9 L3610.6,1305.9" stroke-width="3.0"/>
<text transform="translate(3561.6,1289.3) scale(0.93,1)" font-size="40" text-anchor="middle" font-family="&quot;Liberation Sans&quot;, sans-serif">Ra3.2</text>
<line x1="4122.3" y1="292" x2="4122.3" y2="1625.3" stroke-width="3.0"/>
<path d="M4122.3,292 L4127.3,324 L4117.3,324Z" fill="#000" stroke="none"/>
<path d="M4122.3,1625.3 L4117.3,1593.3 L4127.3,1593.3Z" fill="#000" stroke="none"/>
<text transform="translate(4110,959) rotate(-90) scale(0.93,1)" font-size="40" text-anchor="middle" font-family="&quot;Liberation Sans&quot;, sans-serif">253.96</text>
<line x1="2485" y1="292" x2="4163" y2="292" stroke-width="3.0"/>
<line x1="3008.6" y1="1625.3" x2="4163" y2="1625.3" stroke-width="3.0"/>
<line x1="1330.2" y1="283.6" x2="1330.2" y2="196.5" stroke-width="10" stroke-linecap="round"/>
<line x1="1330.2" y1="196.5" x2="1399" y2="196.5" stroke-width="6.5"/>
<path d="M1459,196.5 L1390.5,185.5 L1390.5,207.5Z" fill="#000" stroke="none" stroke-linejoin="round"/>
<text transform="translate(1285,217) scale(0.92,1)" font-size="57" text-anchor="middle" font-family="&quot;Liberation Sans&quot;, sans-serif">A</text>
<line x1="2421.6" y1="259.3" x2="2421.6" y2="179.2" stroke-width="10" stroke-linecap="round"/>
<line x1="2421.6" y1="179.2" x2="2490.1" y2="179.2" stroke-width="6.5"/>
<path d="M2550.1,179.2 L2481.6,168.2 L2481.6,190.2Z" fill="#000" stroke="none" stroke-linejoin="round"/>
<text transform="translate(2378.5,198.8) scale(0.92,1)" font-size="57" text-anchor="middle" font-family="&quot;Liberation Sans&quot;, sans-serif">B</text>
<line x1="1330.2" y1="1773.9" x2="1330.2" y2="1861.4" stroke-width="10" stroke-linecap="round"/>
<line x1="1330.2" y1="1861.4" x2="1399" y2="1861.4" stroke-width="6.5"/>
<path d="M1459,1861.4 L1390.5,1850.4 L1390.5,1872.4Z" fill="#000" stroke="none" stroke-linejoin="round"/>
<text transform="translate(1285,1882.8) scale(0.92,1)" font-size="57" text-anchor="middle" font-family="&quot;Liberation Sans&quot;, sans-serif">A</text>
<line x1="2422" y1="1789.8" x2="2422" y2="1867.7" stroke-width="10" stroke-linecap="round"/>
<line x1="2422" y1="1867.7" x2="2490.3" y2="1867.7" stroke-width="6.5"/>
<path d="M2550.3,1867.7 L2481.8,1856.7 L2481.8,1878.7Z" fill="#000" stroke="none" stroke-linejoin="round"/>
<text transform="translate(2378.9,1887.8) scale(0.92,1)" font-size="57" text-anchor="middle" font-family="&quot;Liberation Sans&quot;, sans-serif">B</text>
<path d="M465.4,2182.8 A525.0,525.0 0 0 1 1413.4,2182.8 A157.5,157.5 0 0 1 1337.8,2393.2 A183.7,183.7 0 0 0 1233.9,2525 L1150.6,2950.1 A215.2,215.2 0 0 1 728.2,2950.1 L644.9,2525 A183.7,183.7 0 0 0 541,2393.2 A157.5,157.5 0 0 1 465.4,2182.8Z" stroke-width="5.0"/>
<clipPath id="hA"><circle cx="939.4" cy="2460.1" r="143.6"/></clipPath>
<g clip-path="url(#hA)">
<line x1="790.8" y1="2289.8" x2="1088" y2="1992.6" stroke-width="2.6"/>
<line x1="790.8" y1="2324.9" x2="1088" y2="2027.7" stroke-width="2.6"/>
<line x1="790.8" y1="2360" x2="1088" y2="2062.8" stroke-width="2.6"/>
<line x1="790.8" y1="2395.1" x2="1088" y2="2097.9" stroke-width="2.6"/>
<line x1="790.8" y1="2430.2" x2="1088" y2="2133" stroke-width="2.6"/>
<line x1="790.8" y1="2465.3" x2="1088" y2="2168.1" stroke-width="2.6"/>
<line x1="790.8" y1="2500.4" x2="1088" y2="2203.2" stroke-width="2.6"/>
<line x1="790.8" y1="2535.5" x2="1088" y2="2238.3" stroke-width="2.6"/>
<line x1="790.8" y1="2570.6" x2="1088" y2="2273.4" stroke-width="2.6"/>
<line x1="790.8" y1="2605.7" x2="1088" y2="2308.5" stroke-width="2.6"/>
<line x1="790.8" y1="2640.8" x2="1088" y2="2343.6" stroke-width="2.6"/>
<line x1="790.8" y1="2675.9" x2="1088" y2="2378.7" stroke-width="2.6"/>
<line x1="790.8" y1="2711" x2="1088" y2="2413.8" stroke-width="2.6"/>
<line x1="790.8" y1="2746.1" x2="1088" y2="2448.9" stroke-width="2.6"/>
<line x1="790.8" y1="2781.2" x2="1088" y2="2484" stroke-width="2.6"/>
<line x1="790.8" y1="2816.3" x2="1088" y2="2519.1" stroke-width="2.6"/>
<line x1="790.8" y1="2851.4" x2="1088" y2="2554.2" stroke-width="2.6"/>
<line x1="790.8" y1="2886.5" x2="1088" y2="2589.3" stroke-width="2.6"/>
<line x1="790.8" y1="2921.6" x2="1088" y2="2624.4" stroke-width="2.6"/>
</g>
<circle cx="939.4" cy="2460.1" r="143.6" stroke-width="5.0"/>
<circle cx="939.4" cy="2908.6" r="180" stroke-width="3" stroke-dasharray="30 8"/>
<line x1="939.4" y1="1863.8" x2="939.4" y2="3154.9" stroke-width="2.6" stroke-dasharray="61 1.8 23 1.8"/>
<line x1="774.7" y1="2459.4" x2="1128.5" y2="2459.4" stroke-width="2.6" stroke-dasharray="61 1.8 23 1.8"/>
<line x1="737.9" y1="2908.6" x2="1160" y2="2908.6" stroke-width="2.6" stroke-dasharray="61 1.8 23 1.8"/>
<line x1="1160" y1="2908.6" x2="1383.3" y2="2908.6" stroke-width="3.0"/>
<line x1="606.5" y1="2145.2" x2="606.5" y2="2394.3" stroke-width="2.6" stroke-dasharray="61 1.8 23 1.8"/>
<line x1="559.5" y1="2250" x2="822.8" y2="2250" stroke-width="3.0"/>
<line x1="606.5" y1="2250" x2="466.1" y2="2309.4" stroke-width="3.0"/>
<path d="M466.1,2309.4 L493.6,2292.3 L497.5,2301.5Z" fill="#000" stroke="none"/>
<text transform="translate(520,2258) rotate(-22.9) scale(0.93,1)" y="14.3" font-size="40" text-anchor="middle" font-family="&quot;Liberation Sans&quot;, sans-serif">R30</text>
<line x1="783.2" y1="2250" x2="783.2" y2="2459.4" stroke-width="3.0"/>
<path d="M783.2,2250 L788.2,2282 L778.2,2282Z" fill="#000" stroke="none"/>
<path d="M783.2,2459.4 L778.2,2427.4 L788.2,2427.4Z" fill="#000" stroke="none"/>
<text transform="translate(774.5,2357.5) rotate(-90) scale(0.93,1)" font-size="40" text-anchor="middle" font-family="&quot;Liberation Sans&quot;, sans-serif">40</text>
<line x1="1173.8" y1="2343.4" x2="1173.8" y2="2524.5" stroke-width="3.0"/>
<path d="M1173.8,2408.5 L1168.8,2376.5 L1178.8,2376.5Z" fill="#000" stroke="none"/>
<path d="M1173.8,2459.4 L1178.8,2491.4 L1168.8,2491.4Z" fill="#000" stroke="none"/>
<line x1="939.4" y1="2408.5" x2="1128.5" y2="2408.5" stroke-width="3.0"/>
<line x1="1168.2" y1="2408.5" x2="1213.5" y2="2408.5" stroke-width="3.0"/>
<line x1="1168.2" y1="2459.4" x2="1383.3" y2="2459.4" stroke-width="3.0"/>
<text transform="translate(1165,2434) rotate(-90) scale(0.93,1)" font-size="40" text-anchor="middle" font-family="&quot;Liberation Sans&quot;, sans-serif">10</text>
<line x1="939.4" y1="2408.5" x2="1314.2" y2="2045" stroke-width="3.0"/>
<path d="M1314.2,2045 L1294.7,2070.9 L1287.7,2063.7Z" fill="#000" stroke="none"/>
<text transform="translate(1145.5,2170.7) rotate(-44.1) scale(0.93,1)" y="14.3" font-size="40" text-anchor="middle" font-family="&quot;Liberation Sans&quot;, sans-serif">R100</text>
<line x1="1342" y1="2459.4" x2="1342" y2="2908.6" stroke-width="3.0"/>
<path d="M1342,2459.4 L1347,2491.4 L1337,2491.4Z" fill="#000" stroke="none"/>
<path d="M1342,2908.6 L1337,2876.6 L1347,2876.6Z" fill="#000" stroke="none"/>
<text transform="translate(1326.6,2685) rotate(-90) scale(0.93,1)" font-size="40" text-anchor="middle" font-family="&quot;Liberation Sans&quot;, sans-serif">85.48</text>
<line x1="466.1" y1="2561.5" x2="616.2" y2="2458.5" stroke-width="3.0"/>
<path d="M616.2,2458.5 L592.6,2480.7 L587,2472.5Z" fill="#000" stroke="none"/>
<text transform="translate(538.6,2481) rotate(-34.5) scale(0.93,1)" y="14.3" font-size="40" text-anchor="middle" font-family="&quot;Liberation Sans&quot;, sans-serif">R35</text>
<line x1="551" y1="3083" x2="740.7" y2="3000" stroke-width="3.0"/>
<path d="M740.7,3000 L713.4,3017.4 L709.4,3008.2Z" fill="#000" stroke="none"/>
<text transform="translate(576.5,3047.3) rotate(-23.6) scale(0.93,1)" y="14.3" font-size="40" text-anchor="middle" font-family="&quot;Liberation Sans&quot;, sans-serif">R41</text>
<text transform="translate(314.5,2305) scale(0.94,1)" font-size="57" text-anchor="middle" font-family="&quot;Liberation Sans&quot;, sans-serif">A-A</text>
<line x1="246.9" y1="2316.4" x2="381.9" y2="2316.4" stroke-width="3.2"/>
<text transform="translate(316.4,2373)" font-size="57" text-anchor="middle" font-family="&quot;Liberation Sans&quot;, sans-serif">1/1.5</text>
<path d="M1829.3,2096.1 A246.7,246.7 0 1 1 2322.7,2096.1 L2314.8,2940.7 A238.8,238.8 0 0 1 1837.2,2940.7 Z" stroke-width="5.0"/>
<clipPath id="hB"><circle cx="2076.5" cy="2093.8" r="196.9"/></clipPath>
<g clip-path="url(#hB)">
<line x1="1874.6" y1="1867.3" x2="2278.4" y2="1463.5" stroke-width="2.6"/>
<line x1="1874.6" y1="1902.6" x2="2278.4" y2="1498.8" stroke-width="2.6"/>
<line x1="1874.6" y1="1937.9" x2="2278.4" y2="1534.1" stroke-width="2.6"/>
<line x1="1874.6" y1="1973.2" x2="2278.4" y2="1569.4" stroke-width="2.6"/>
<line x1="1874.6" y1="2008.5" x2="2278.4" y2="1604.7" stroke-width="2.6"/>
<line x1="1874.6" y1="2043.8" x2="2278.4" y2="1640" stroke-width="2.6"/>
<line x1="1874.6" y1="2079.1" x2="2278.4" y2="1675.3" stroke-width="2.6"/>
<line x1="1874.6" y1="2114.4" x2="2278.4" y2="1710.6" stroke-width="2.6"/>
<line x1="1874.6" y1="2149.7" x2="2278.4" y2="1745.9" stroke-width="2.6"/>
<line x1="1874.6" y1="2185" x2="2278.4" y2="1781.2" stroke-width="2.6"/>
<line x1="1874.6" y1="2220.3" x2="2278.4" y2="1816.5" stroke-width="2.6"/>
<line x1="1874.6" y1="2255.6" x2="2278.4" y2="1851.8" stroke-width="2.6"/>
<line x1="1874.6" y1="2290.9" x2="2278.4" y2="1887.1" stroke-width="2.6"/>
<line x1="1874.6" y1="2326.2" x2="2278.4" y2="1922.4" stroke-width="2.6"/>
<line x1="1874.6" y1="2361.5" x2="2278.4" y2="1957.7" stroke-width="2.6"/>
<line x1="1874.6" y1="2396.8" x2="2278.4" y2="1993" stroke-width="2.6"/>
<line x1="1874.6" y1="2432.1" x2="2278.4" y2="2028.3" stroke-width="2.6"/>
<line x1="1874.6" y1="2467.4" x2="2278.4" y2="2063.6" stroke-width="2.6"/>
<line x1="1874.6" y1="2502.7" x2="2278.4" y2="2098.9" stroke-width="2.6"/>
<line x1="1874.6" y1="2538" x2="2278.4" y2="2134.2" stroke-width="2.6"/>
<line x1="1874.6" y1="2573.3" x2="2278.4" y2="2169.5" stroke-width="2.6"/>
<line x1="1874.6" y1="2608.6" x2="2278.4" y2="2204.8" stroke-width="2.6"/>
<line x1="1874.6" y1="2643.9" x2="2278.4" y2="2240.1" stroke-width="2.6"/>
<line x1="1874.6" y1="2679.2" x2="2278.4" y2="2275.4" stroke-width="2.6"/>
<line x1="1874.6" y1="2714.5" x2="2278.4" y2="2310.7" stroke-width="2.6"/>
</g>
<g transform="translate(2186,2030) rotate(-16.5)"><rect x="-95" y="-32" width="190" height="58" fill="#fff" stroke="none"/></g>
<circle cx="2076.5" cy="2093.8" r="196.9" stroke-width="5.0"/>
<circle cx="2076.5" cy="2093.8" r="207" stroke-width="5.0"/>
<circle cx="2077" cy="2964.5" r="181" stroke-width="3" stroke-dasharray="30 8"/>
<line x1="1848" y1="2093.8" x2="2300" y2="2093.8" stroke-width="2.6" stroke-dasharray="61 1.8 23 1.8"/>
<line x1="2300" y1="2093.8" x2="2551.3" y2="2093.8" stroke-width="3.0"/>
<line x1="2076" y1="1866.2" x2="2076" y2="2321.4" stroke-width="2.6" stroke-dasharray="61 1.8 23 1.8"/>
<line x1="2076" y1="2762.7" x2="2076" y2="3198.6" stroke-width="2.6" stroke-dasharray="61 1.8 23 1.8"/>
<line x1="1875.8" y1="2963.9" x2="2290" y2="2963.9" stroke-width="2.6" stroke-dasharray="61 1.8 23 1.8"/>
<line x1="2290" y1="2963.9" x2="2552.3" y2="2963.9" stroke-width="3.0"/>
<line x1="2056.4" y1="2938.5" x2="2444.9" y2="2938.5" stroke-width="3.0"/>
<line x1="1881.7" y1="2150.9" x2="2271.8" y2="2035" stroke-width="3.0"/>
<path d="M1881.7,2150.9 L1911,2137 L1913.8,2146.6Z" fill="#000" stroke="none"/>
<path d="M2271.8,2035 L2242.5,2048.9 L2239.7,2039.3Z" fill="#000" stroke="none"/>
<text transform="translate(2174.3,2034.4) rotate(-16.5) scale(0.93,1)" y="14.3" font-size="40" text-anchor="middle" font-family="&quot;Liberation Sans&quot;, sans-serif">&#216;79</text>
<line x1="1656.4" y1="1899.8" x2="1849.4" y2="1988.4" stroke-width="3.0"/>
<path d="M1849.4,1988.4 L1818.2,1979.6 L1822.4,1970.5Z" fill="#000" stroke="none"/>
<text transform="translate(1703.3,1890.2) rotate(24.7) scale(0.93,1)" y="14.3" font-size="40" text-anchor="middle" font-family="&quot;Liberation Sans&quot;, sans-serif">R47</text>
<line x1="2512" y1="2093.8" x2="2512" y2="2963.9" stroke-width="3.0"/>
<path d="M2512,2093.8 L2517,2125.8 L2507,2125.8Z" fill="#000" stroke="none"/>
<path d="M2512,2963.9 L2507,2931.9 L2517,2931.9Z" fill="#000" stroke="none"/>
<text transform="translate(2499.2,2515) rotate(-90) scale(0.93,1)" font-size="40" text-anchor="middle" font-family="&quot;Liberation Sans&quot;, sans-serif">165.96</text>
<line x1="2404.2" y1="2875.2" x2="2404.2" y2="3028.6" stroke-width="3.0"/>
<path d="M2404.2,2938.5 L2399.2,2906.5 L2409.2,2906.5Z" fill="#000" stroke="none"/>
<path d="M2404.2,2963.9 L2409.2,2995.9 L2399.2,2995.9Z" fill="#000" stroke="none"/>
<text transform="translate(2390,2913.6) rotate(-90) scale(0.93,1)" font-size="40" text-anchor="middle" font-family="&quot;Liberation Sans&quot;, sans-serif">5</text>
<line x1="1669.8" y1="3126.8" x2="1859" y2="3039.6" stroke-width="3.0"/>
<path d="M1859,3039.6 L1832,3057.5 L1827.8,3048.5Z" fill="#000" stroke="none"/>
<text transform="translate(1708.1,3081.3) rotate(-24.7) scale(0.93,1)" y="14.3" font-size="40" text-anchor="middle" font-family="&quot;Liberation Sans&quot;, sans-serif">R45.5</text>
<text transform="translate(1697.4,2259.9) scale(0.92,1)" font-size="57" text-anchor="middle" font-family="&quot;Liberation Sans&quot;, sans-serif">B-B</text>
<line x1="1627.9" y1="2272.4" x2="1763.2" y2="2272.4" stroke-width="3.2"/>
<text transform="translate(1697.5,2328)" font-size="57" text-anchor="middle" font-family="&quot;Liberation Sans&quot;, sans-serif">1/1.5</text>
<text transform="translate(3202,2041) scale(0.75,1)" font-size="56" text-anchor="start" font-family="&quot;Liberation Serif&quot;, serif" dominant-baseline="central" letter-spacing="8"><tspan style="stroke:#fff;stroke-width:1.0px;paint-order:fill stroke">其余</tspan></text>
<path d="M3335.2,2021.8 L3376.9,2021.8" stroke-width="3.0"/>
<path d="M3335.2,2021.8 L3356.6,2060.6 L3409.3,1968.6 L3544.7,1968.6" stroke-width="3.0"/>
<text transform="translate(3485.7,1952.3) scale(0.93,1)" font-size="40" text-anchor="middle" font-family="&quot;Liberation Sans&quot;, sans-serif">Ra12.6</text>
<text transform="translate(3201,2246.5) scale(0.75,1)" font-size="56" text-anchor="start" font-family="&quot;Liberation Serif&quot;, serif" dominant-baseline="central" letter-spacing="8"><tspan style="stroke:#fff;stroke-width:1.0px;paint-order:fill stroke">技术要求</tspan><tspan>:</tspan></text>
<text transform="translate(3201,2345.5) scale(0.75,1)" font-size="56" text-anchor="start" font-family="&quot;Liberation Serif&quot;, serif" dominant-baseline="central" letter-spacing="8"><tspan>1.</tspan><tspan style="stroke:#fff;stroke-width:1.0px;paint-order:fill stroke">锻造圆角</tspan><tspan>R2</tspan><tspan style="stroke:#fff;stroke-width:1.0px;paint-order:fill stroke">，未注</tspan><tspan>;</tspan></text>
<text transform="translate(3201,2445.5) scale(0.75,1)" font-size="56" text-anchor="start" font-family="&quot;Liberation Serif&quot;, serif" dominant-baseline="central" letter-spacing="8"><tspan>2.</tspan><tspan style="stroke:#fff;stroke-width:1.0px;paint-order:fill stroke">锻造过程不得留有飞边、毛刺</tspan><tspan>;</tspan></text>
<text transform="translate(3201,2547.6) scale(0.75,1)" font-size="56" text-anchor="start" font-family="&quot;Liberation Serif&quot;, serif" dominant-baseline="central" letter-spacing="8"><tspan>3.</tspan><tspan style="stroke:#fff;stroke-width:1.0px;paint-order:fill stroke">不得出现夹渣、气孔等缺陷</tspan><tspan>;</tspan></text>
<text transform="translate(3201,2645.4) scale(0.75,1)" font-size="56" text-anchor="start" font-family="&quot;Liberation Serif&quot;, serif" dominant-baseline="central" letter-spacing="8"><tspan>4.</tspan><tspan style="stroke:#fff;stroke-width:1.0px;paint-order:fill stroke">心部回火，表面高频淬火</tspan><tspan>;</tspan></text>
<text transform="translate(3201,2748) scale(0.75,1)" font-size="56" text-anchor="start" font-family="&quot;Liberation Serif&quot;, serif" dominant-baseline="central" letter-spacing="8"><tspan>5.</tspan><tspan style="stroke:#fff;stroke-width:1.0px;paint-order:fill stroke">使用前检查、调节静平衡。</tspan></text>
<text transform="translate(3376.5,3052)" font-size="30" text-anchor="middle" font-family="&quot;Liberation Serif&quot;, serif" dominant-baseline="central">制图</text>
<text transform="translate(3538,3052)" font-size="30" text-anchor="middle" font-family="&quot;Liberation Serif&quot;, serif" dominant-baseline="central">韩思源</text>
<text transform="translate(3760,3052)" font-size="30" text-anchor="middle" font-family="&quot;Liberation Sans&quot;, sans-serif" dominant-baseline="central">2023/07/09</text>
<text transform="translate(3377,3123)" font-size="30" text-anchor="middle" font-family="&quot;Liberation Serif&quot;, serif" dominant-baseline="central">审核</text>
<text transform="translate(3598.5,3194)" font-size="30" text-anchor="middle" font-family="&quot;Liberation Sans&quot;, sans-serif" dominant-baseline="central">机2001-20201041116</text>
<text transform="translate(4074,3089)" font-size="42" text-anchor="middle" font-family="&quot;Liberation Serif&quot;, serif" dominant-baseline="central">曲轴</text>
<text transform="translate(4072.7,3194)" font-size="30" text-anchor="middle" font-family="&quot;Liberation Serif&quot;, serif" dominant-baseline="central">钢，合金</text>
<text transform="translate(4326.3,3052)" font-size="30" text-anchor="middle" font-family="&quot;Liberation Serif&quot;, serif" dominant-baseline="central">比例</text>
<text transform="translate(4487.7,3052)" font-size="30" text-anchor="middle" font-family="&quot;Liberation Sans&quot;, sans-serif" dominant-baseline="central">1:1.5</text>
<text transform="translate(4437.3,3160)" font-size="44" text-anchor="middle" font-family="&quot;Liberation Serif&quot;, serif" dominant-baseline="central">零件图</text>
</g>
</svg>
</body></html>
